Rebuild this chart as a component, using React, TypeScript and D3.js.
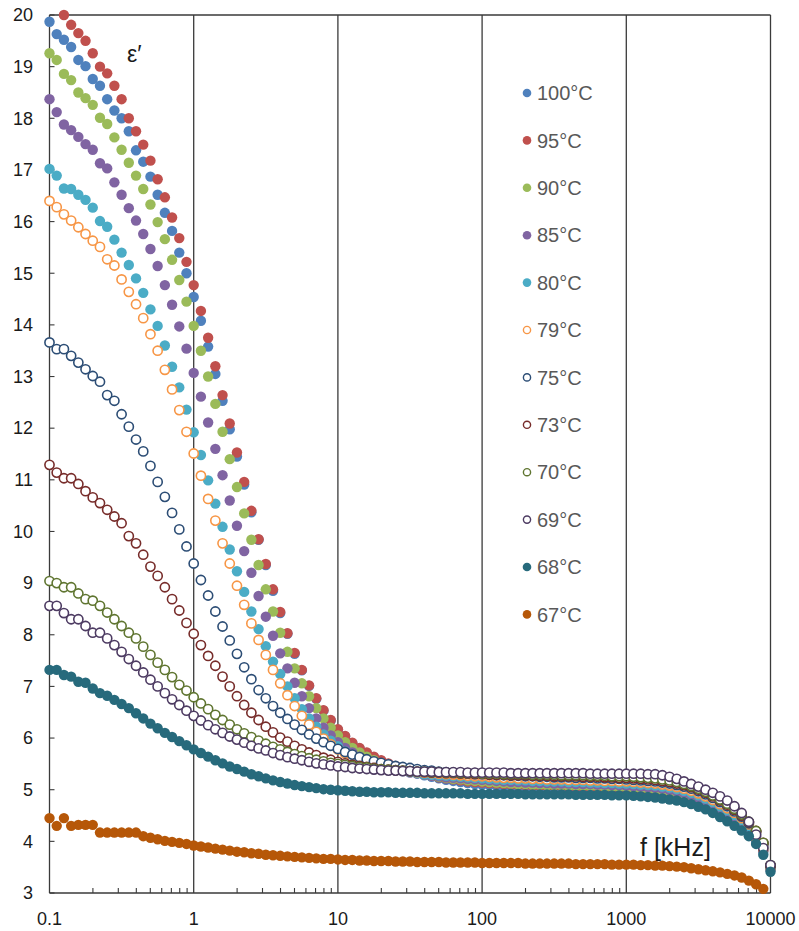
import React from "react";
import * as d3 from "d3";

// Frequency sweep: 20 points per decade, 0.1 kHz .. 10 MHz
const MANTISSA = [1, 1.122, 1.259, 1.413, 1.585, 1.778, 1.995, 2.239, 2.512, 2.818, 3.162, 3.548, 3.981, 4.467, 5.012, 5.623, 6.31, 7.079, 7.943, 8.913];
const DECADES = [0.1, 1, 10, 100, 1000];
const FREQ = DECADES.flatMap((d) => MANTISSA.map((m) => d * m)).concat([10000]);

// Real permittivity ε′ per temperature
const T100 = [19.87, 19.63, 19.52, 19.38, 19.13, 19.01, 18.76, 18.63, 18.37, 18.15, 18.0,
  17.75, 17.38, 17.16, 16.87, 16.52, 16.17, 15.82, 15.40, 15.0, 14.54,
  14.08, 13.58, 13.05, 12.53, 11.98, 11.45, 10.91, 10.37, 9.84, 9.35,
  8.85, 8.42, 8.02, 7.63, 7.31, 7.01, 6.76, 6.53, 6.34, 6.16,
  6.03, 5.90, 5.80, 5.71, 5.63, 5.56, 5.50, 5.45, 5.40, 5.36,
  5.32, 5.28, 5.25, 5.22, 5.19, 5.17, 5.15, 5.13, 5.11, 5.10,
  5.09, 5.08, 5.07, 5.06, 5.06, 5.05, 5.05, 5.04, 5.04, 5.03,
  5.03, 5.03, 5.02, 5.02, 5.02, 5.01, 5.01, 5.00, 5.00, 4.99,
  4.98, 4.97, 4.96, 4.95, 4.93, 4.91, 4.88, 4.85, 4.81, 4.76,
  4.70, 4.63, 4.55, 4.47, 4.38, 4.28, 4.16, 4.01, 3.80, 3.45];
const T95 = [20.35, 20.15, 20.0, 19.81, 19.65, 19.50, 19.26, 19.0, 18.87, 18.63, 18.37,
  18.0, 17.75, 17.49, 17.18, 16.82, 16.47, 16.08, 15.68, 15.22, 14.77,
  14.27, 13.75, 13.20, 12.64, 12.09, 11.53, 10.96, 10.40, 9.85, 9.37,
  8.88, 8.44, 8.03, 7.65, 7.32, 7.02, 6.77, 6.54, 6.35, 6.17,
  6.04, 5.91, 5.81, 5.72, 5.64, 5.57, 5.51, 5.46, 5.41, 5.37,
  5.33, 5.30, 5.27, 5.24, 5.22, 5.20, 5.18, 5.16, 5.15, 5.14,
  5.13, 5.12, 5.11, 5.10, 5.09, 5.09, 5.08, 5.08, 5.07, 5.07,
  5.07, 5.06, 5.06, 5.06, 5.05, 5.05, 5.04, 5.04, 5.03, 5.03,
  5.02, 5.01, 5.00, 4.99, 4.97, 4.95, 4.92, 4.89, 4.85, 4.80,
  4.74, 4.67, 4.59, 4.51, 4.42, 4.32, 4.20, 4.05, 3.83, 3.47];
const T90 = [19.26, 19.13, 18.86, 18.74, 18.50, 18.39, 18.26, 18.01, 17.89, 17.63, 17.39,
  17.14, 16.89, 16.63, 16.33, 15.99, 15.66, 15.26, 14.87, 14.45, 13.98,
  13.50, 13.0, 12.47, 11.93, 11.40, 10.86, 10.35, 9.84, 9.35, 8.88,
  8.45, 8.04, 7.67, 7.35, 7.06, 6.81, 6.58, 6.38, 6.20, 6.05,
  5.92, 5.81, 5.72, 5.64, 5.57, 5.51, 5.46, 5.42, 5.38, 5.35,
  5.32, 5.29, 5.27, 5.25, 5.23, 5.21, 5.20, 5.18, 5.17, 5.16,
  5.15, 5.14, 5.13, 5.12, 5.11, 5.11, 5.10, 5.10, 5.09, 5.09,
  5.09, 5.08, 5.08, 5.08, 5.07, 5.07, 5.06, 5.06, 5.05, 5.05,
  5.04, 5.03, 5.02, 5.01, 4.99, 4.97, 4.94, 4.91, 4.87, 4.82,
  4.76, 4.69, 4.61, 4.53, 4.44, 4.34, 4.22, 4.07, 3.86, 3.49];
const T85 = [18.37, 18.12, 17.88, 17.77, 17.64, 17.50, 17.39, 17.13, 17.03, 16.76, 16.52,
  16.26, 16.02, 15.76, 15.47, 15.14, 14.77, 14.39, 13.97, 13.54, 13.07,
  12.61, 12.11, 11.60, 11.09, 10.60, 10.11, 9.62, 9.20, 8.75, 8.35,
  7.98, 7.64, 7.35, 7.07, 6.81, 6.58, 6.38, 6.20, 6.05, 5.92,
  5.81, 5.72, 5.64, 5.57, 5.51, 5.46, 5.42, 5.39, 5.36, 5.33,
  5.31, 5.29, 5.27, 5.26, 5.24, 5.23, 5.22, 5.21, 5.20, 5.19,
  5.18, 5.17, 5.16, 5.15, 5.15, 5.14, 5.14, 5.13, 5.13, 5.12,
  5.12, 5.12, 5.11, 5.11, 5.11, 5.10, 5.10, 5.09, 5.09, 5.08,
  5.07, 5.06, 5.05, 5.04, 5.02, 5.00, 4.97, 4.94, 4.90, 4.85,
  4.79, 4.72, 4.64, 4.56, 4.47, 4.37, 4.25, 4.10, 3.89, 3.50];
const T80 = [17.02, 16.89, 16.64, 16.63, 16.52, 16.42, 16.27, 16.01, 15.90, 15.65, 15.40,
  15.16, 14.90, 14.62, 14.30, 13.98, 13.60, 13.19, 12.79, 12.36, 11.92,
  11.48, 10.99, 10.54, 10.09, 9.65, 9.23, 8.83, 8.45, 8.11, 7.78,
  7.48, 7.24, 7.0, 6.77, 6.56, 6.38, 6.22, 6.07, 5.95, 5.84,
  5.74, 5.66, 5.59, 5.53, 5.48, 5.44, 5.41, 5.38, 5.36, 5.34,
  5.32, 5.30, 5.29, 5.28, 5.27, 5.26, 5.25, 5.24, 5.23, 5.22,
  5.21, 5.20, 5.19, 5.19, 5.18, 5.18, 5.17, 5.17, 5.16, 5.16,
  5.16, 5.15, 5.15, 5.15, 5.14, 5.14, 5.13, 5.13, 5.12, 5.12,
  5.11, 5.10, 5.09, 5.08, 5.06, 5.04, 5.01, 4.98, 4.94, 4.89,
  4.83, 4.76, 4.68, 4.60, 4.51, 4.41, 4.29, 4.14, 3.92, 3.51];
const T79 = [16.40, 16.28, 16.14, 16.02, 15.89, 15.76, 15.63, 15.51, 15.27, 15.15, 14.88,
  14.64, 14.40, 14.13, 13.82, 13.50, 13.13, 12.75, 12.35, 11.93, 11.51,
  11.08, 10.63, 10.21, 9.77, 9.38, 8.95, 8.58, 8.22, 7.90, 7.61,
  7.32, 7.06, 6.83, 6.62, 6.43, 6.26, 6.12, 5.99, 5.88, 5.78,
  5.70, 5.63, 5.57, 5.52, 5.48, 5.45, 5.42, 5.40, 5.38, 5.36,
  5.34, 5.33, 5.32, 5.31, 5.30, 5.29, 5.28, 5.27, 5.26, 5.26,
  5.25, 5.24, 5.23, 5.23, 5.22, 5.22, 5.21, 5.21, 5.20, 5.20,
  5.20, 5.19, 5.19, 5.19, 5.18, 5.18, 5.17, 5.17, 5.16, 5.16,
  5.15, 5.14, 5.13, 5.12, 5.10, 5.08, 5.05, 5.02, 4.98, 4.93,
  4.87, 4.80, 4.72, 4.64, 4.55, 4.45, 4.33, 4.18, 3.95, 3.52];
const T75 = [13.66, 13.53, 13.53, 13.40, 13.27, 13.14, 13.01, 12.90, 12.64, 12.53, 12.27,
  12.03, 11.78, 11.55, 11.27, 10.96, 10.67, 10.36, 10.04, 9.71, 9.38,
  9.06, 8.76, 8.45, 8.16, 7.89, 7.63, 7.37, 7.14, 6.93, 6.77,
  6.62, 6.49, 6.37, 6.26, 6.16, 6.07, 5.99, 5.92, 5.85, 5.79,
  5.73, 5.68, 5.63, 5.59, 5.55, 5.52, 5.49, 5.46, 5.44, 5.42,
  5.40, 5.38, 5.37, 5.35, 5.34, 5.33, 5.32, 5.31, 5.30, 5.30,
  5.29, 5.28, 5.28, 5.27, 5.27, 5.26, 5.26, 5.25, 5.25, 5.24,
  5.24, 5.24, 5.23, 5.23, 5.23, 5.22, 5.22, 5.21, 5.21, 5.20,
  5.19, 5.18, 5.17, 5.16, 5.14, 5.12, 5.09, 5.06, 5.02, 4.97,
  4.91, 4.84, 4.76, 4.68, 4.58, 4.48, 4.35, 4.19, 3.96, 3.53];
const T73 = [11.29, 11.14, 11.03, 11.03, 10.92, 10.78, 10.66, 10.55, 10.42, 10.29, 10.16,
  9.91, 9.77, 9.55, 9.32, 9.14, 8.92, 8.69, 8.47, 8.23, 8.02,
  7.80, 7.59, 7.40, 7.19, 7.00, 6.81, 6.64, 6.49, 6.35, 6.22,
  6.11, 6.01, 5.93, 5.85, 5.78, 5.72, 5.67, 5.62, 5.58, 5.54,
  5.51, 5.48, 5.46, 5.44, 5.42, 5.40, 5.39, 5.38, 5.37, 5.36,
  5.35, 5.34, 5.33, 5.33, 5.32, 5.32, 5.31, 5.31, 5.30, 5.30,
  5.29, 5.29, 5.29, 5.28, 5.28, 5.28, 5.27, 5.27, 5.27, 5.26,
  5.26, 5.26, 5.26, 5.25, 5.25, 5.25, 5.24, 5.24, 5.23, 5.23,
  5.22, 5.21, 5.20, 5.19, 5.17, 5.15, 5.12, 5.09, 5.05, 5.00,
  4.94, 4.87, 4.79, 4.71, 4.61, 4.50, 4.37, 4.20, 3.97, 3.53];
const T70 = [9.04, 9.00, 8.92, 8.92, 8.80, 8.69, 8.66, 8.56, 8.43, 8.30, 8.17,
  8.04, 7.93, 7.77, 7.61, 7.46, 7.32, 7.18, 7.03, 6.92, 6.79,
  6.67, 6.56, 6.45, 6.35, 6.26, 6.17, 6.09, 6.02, 5.95, 5.89,
  5.83, 5.78, 5.73, 5.69, 5.65, 5.61, 5.58, 5.55, 5.52, 5.50,
  5.48, 5.46, 5.44, 5.43, 5.41, 5.40, 5.39, 5.38, 5.37, 5.36,
  5.35, 5.35, 5.34, 5.34, 5.33, 5.33, 5.32, 5.32, 5.32, 5.31,
  5.31, 5.31, 5.30, 5.30, 5.30, 5.30, 5.29, 5.29, 5.29, 5.29,
  5.28, 5.28, 5.28, 5.28, 5.27, 5.27, 5.27, 5.26, 5.26, 5.26,
  5.25, 5.24, 5.23, 5.22, 5.20, 5.18, 5.15, 5.11, 5.07, 5.02,
  4.96, 4.89, 4.81, 4.73, 4.63, 4.52, 4.38, 4.20, 3.97, 3.54];
const T69 = [8.56, 8.56, 8.42, 8.30, 8.30, 8.17, 8.04, 8.04, 7.93, 7.80, 7.67,
  7.53, 7.40, 7.27, 7.13, 7.00, 6.87, 6.75, 6.64, 6.53, 6.43,
  6.34, 6.25, 6.17, 6.10, 6.03, 5.97, 5.91, 5.85, 5.80, 5.76,
  5.71, 5.67, 5.63, 5.60, 5.57, 5.54, 5.51, 5.49, 5.47, 5.45,
  5.44, 5.42, 5.41, 5.40, 5.39, 5.38, 5.37, 5.37, 5.36, 5.36,
  5.35, 5.35, 5.35, 5.34, 5.34, 5.34, 5.34, 5.33, 5.33, 5.33,
  5.33, 5.33, 5.33, 5.32, 5.32, 5.32, 5.32, 5.32, 5.32, 5.32,
  5.32, 5.32, 5.32, 5.32, 5.31, 5.31, 5.31, 5.31, 5.31, 5.31,
  5.31, 5.31, 5.30, 5.30, 5.28, 5.25, 5.21, 5.16, 5.11, 5.06,
  5.00, 4.94, 4.87, 4.79, 4.68, 4.55, 4.38, 4.13, 3.87, 3.54];
const T68 = [7.32, 7.32, 7.22, 7.19, 7.09, 7.07, 6.96, 6.87, 6.82, 6.74, 6.66,
  6.58, 6.48, 6.38, 6.28, 6.19, 6.10, 6.02, 5.94, 5.86, 5.78,
  5.71, 5.64, 5.57, 5.51, 5.45, 5.40, 5.35, 5.30, 5.26, 5.22,
  5.18, 5.15, 5.12, 5.09, 5.07, 5.05, 5.03, 5.01, 5.00, 4.99,
  4.98, 4.97, 4.96, 4.96, 4.95, 4.95, 4.95, 4.94, 4.94, 4.94,
  4.94, 4.93, 4.93, 4.93, 4.93, 4.93, 4.93, 4.92, 4.92, 4.92,
  4.92, 4.92, 4.92, 4.92, 4.92, 4.91, 4.91, 4.91, 4.91, 4.91,
  4.91, 4.91, 4.90, 4.90, 4.90, 4.90, 4.90, 4.89, 4.89, 4.89,
  4.88, 4.87, 4.86, 4.85, 4.83, 4.81, 4.79, 4.76, 4.72, 4.67,
  4.62, 4.55, 4.47, 4.39, 4.30, 4.21, 4.10, 3.95, 3.74, 3.41];
const T67 = [4.45, 4.30, 4.45, 4.30, 4.32, 4.32, 4.32, 4.17, 4.17, 4.17, 4.17,
  4.17, 4.17, 4.10, 4.07, 4.04, 4.01, 3.99, 3.97, 3.95, 3.92,
  3.90, 3.88, 3.86, 3.84, 3.82, 3.80, 3.79, 3.77, 3.76, 3.74,
  3.73, 3.72, 3.71, 3.70, 3.69, 3.68, 3.67, 3.66, 3.66, 3.65,
  3.64, 3.64, 3.63, 3.63, 3.62, 3.62, 3.62, 3.61, 3.61, 3.61,
  3.60, 3.60, 3.60, 3.60, 3.59, 3.59, 3.59, 3.59, 3.59, 3.58,
  3.58, 3.58, 3.58, 3.58, 3.58, 3.57, 3.57, 3.57, 3.57, 3.57,
  3.57, 3.57, 3.56, 3.56, 3.56, 3.56, 3.56, 3.55, 3.55, 3.55,
  3.55, 3.54, 3.54, 3.53, 3.53, 3.52, 3.51, 3.50, 3.48, 3.46,
  3.44, 3.42, 3.40, 3.37, 3.34, 3.30, 3.24, 3.17, 3.08, 2.97];

const LABELS = ["100°C", "95°C", "90°C", "85°C", "80°C", "79°C", "75°C", "73°C", "70°C", "69°C", "68°C", "67°C"];
const VALUES = [T100, T95, T90, T85, T80, T79, T75, T73, T70, T69, T68, T67];
const COLORS = ["#4F81BD", "#C0504D", "#9BBB59", "#8064A2", "#4BACC6", "#F79646", "#2C4D75", "#772C2A", "#5F7530", "#4D3B62", "#276A7C", "#B65708"];
const HOLLOW = [false, false, false, false, false, true, true, true, true, true, false, false];

const Y_TICKS = d3.range(3, 21);
const X_MAJOR = [0.1, 1, 10, 100, 1000, 10000];
const X_LABELS = ["0.1", "1", "10", "100", "1000", "10000"];

const W = 799;
const H = 931;
const FONT = "'Liberation Sans', Arial, sans-serif";

export default function App() {
  const x = d3.scaleLog().domain([0.1, 10000]).range([49.5, 770.5]);
  const y = d3.scaleLinear().domain([3, 20]).range([893, 15]);
  const axisColor = "#3a3a3a";

  const minor: number[] = [];
  X_MAJOR.slice(0, -1).forEach((d) => {
    for (let k = 2; k <= 9; k++) minor.push(d * k);
  });

  const legendX = 527;
  const legendY0 = 93;
  const legendStep = 47.4;

  return (
    <div style={{ position: "absolute", left: 0, top: 0 }}>
      <svg width={W} height={H} viewBox={`0 0 ${W} ${H}`} style={{ display: "block", background: "#fff" }}>
        {/* vertical gridlines at decades */}
        {X_MAJOR.map((d) => (
          <line key={"g" + d} x1={x(d)} x2={x(d)} y1={y(20)} y2={y(3)} stroke={axisColor} strokeWidth={1.3} />
        ))}
        {/* top border */}
        <line x1={x(0.1)} x2={x(10000)} y1={y(20)} y2={y(20)} stroke={axisColor} strokeWidth={1.3} />
        {/* bottom axis */}
        <line x1={x(0.1)} x2={x(10000)} y1={y(3)} y2={y(3)} stroke={axisColor} strokeWidth={1.3} />
        {minor.map((d, i) => (
          <line key={"m" + i} x1={x(d)} x2={x(d)} y1={y(3)} y2={y(3) - 5} stroke={axisColor} strokeWidth={1.1} />
        ))}
        {/* y ticks */}
        {Y_TICKS.map((t) => (
          <g key={"y" + t}>
            <line x1={x(0.1)} x2={x(0.1) + 5} y1={y(t)} y2={y(t)} stroke={axisColor} strokeWidth={1.1} />
            <text x={33} y={y(t)} dy="0.35em" textAnchor="end" fontFamily={FONT} fontSize={18} fill="#1a1a1a">
              {t}
            </text>
          </g>
        ))}
        {X_MAJOR.map((d, i) => (
          <text key={"xl" + d} x={x(d)} y={925} textAnchor="middle" fontFamily={FONT} fontSize={18} fill="#1a1a1a">
            {X_LABELS[i]}
          </text>
        ))}

        {/* data markers */}
        {VALUES.map((vals, s) => (
          <g key={"s" + s}>
            {vals.map((v, i) =>
              v > 20.001 || v < 2.999 ? null : HOLLOW[s] ? (
                <circle key={i} cx={x(FREQ[i])} cy={y(v)} r={4.6} fill="#fff" stroke={COLORS[s]} strokeWidth={1.6} />
              ) : (
                <circle key={i} cx={x(FREQ[i])} cy={y(v)} r={5.2} fill={COLORS[s]} />
              )
            )}
          </g>
        ))}

        {/* axis labels */}
        <text x={127} y={62} fontFamily={FONT} fontSize={23} fill="#1a1a1a">ε′</text>
        <text x={640} y={856} fontFamily={FONT} fontSize={25} fill="#1a1a1a">f [kHz]</text>

        {/* legend */}
        {LABELS.map((lab, s) => (
          <g key={"l" + s} transform={`translate(${legendX},${legendY0 + s * legendStep})`}>
            {HOLLOW[s] ? (
              <circle r={3.6} fill="#fff" stroke={COLORS[s]} strokeWidth={1.4} />
            ) : (
              <circle r={4.3} fill={COLORS[s]} />
            )}
            <text x={10} y={0} dy="0.36em" fontFamily={FONT} fontSize={20} fill="#595959">
              {lab}
            </text>
          </g>
        ))}
      </svg>
    </div>
  );
}
